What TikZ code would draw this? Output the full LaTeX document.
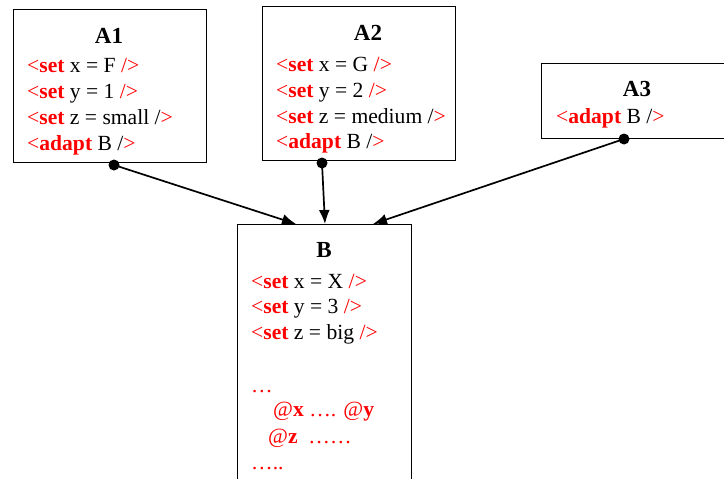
\documentclass[tikz,border=0pt]{standalone}
\usepackage{fontspec}
\setmainfont{Liberation Serif}
\usetikzlibrary{arrows.meta}
\newcommand\tagset{\textcolor{red}{<\textbf{set}}}
\newcommand\tagadapt{\textcolor{red}{<\textbf{adapt}}}
\newcommand\rend{\textcolor{red}{/>}}
\newcommand\hend{/\textcolor{red}{>}}
\tikzset{
  box/.style={draw, line width=1.4pt, inner sep=0pt, anchor=north west},
  ttl/.style={anchor=base, inner sep=0pt, font=\fontsize{23}{26}\selectfont\bfseries},
  ln/.style={anchor=base west, inner sep=0pt, font=\fontsize{21.6}{26}\selectfont},
  rln/.style={ln, text=red},
  conn/.style={line width=1.7pt, -{Latex[length=14pt,width=11pt]}},
  dot/.style={fill=black}
}
\begin{document}
\begin{tikzpicture}[x=1pt,y=-1pt]
\useasboundingbox (0,0) rectangle (724,479);
% boxes
\node[box, minimum width=193pt, minimum height=153pt] (A1) at (13,9) {};
\node[box, minimum width=193pt, minimum height=154pt] (A2) at (262,6) {};
\node[box, minimum width=183pt, minimum height=75pt] (A3) at (541,63) {};
\node[box, minimum width=174pt, minimum height=270pt] (B) at (237,224) {};
% A1
\node[ttl] (A1t) at (109,43) {A1};
\node[ln] (A1a) at (27,72) {\tagset{} x = F \rend};
\node[ln] (A1b) at (27,98) {\tagset{} y = 1 \rend};
\node[ln] (A1c) at (27,124) {\tagset{} z = small \hend};
\node[ln] (A1d) at (27,150) {\tagadapt{} B \hend};
% A2
\node[ttl] (A2t) at (368,40) {A2};
\node[ln] (A2a) at (276,71) {\tagset{} x = G \rend};
\node[ln] (A2b) at (276,97) {\tagset{} y = 2 \rend};
\node[ln] (A2c) at (276,123) {\tagset{} z = medium \hend};
\node[ln] (A2d) at (276,148) {\tagadapt{} B \hend};
% A3
\node[ttl] (A3t) at (637,96) {A3};
\node[ln] (A3a) at (556,123) {\tagadapt{} B \hend};
% B
\node[ttl] (Bt) at (324,257) {B};
\node[ln] (Ba) at (251,288) {\tagset{} x = X \rend};
\node[ln] (Bb) at (251,313) {\tagset{} y = 3 \rend};
\node[ln] (Bc) at (251,339) {\tagset{} z = big \rend};
\node[rln] (Bd) at (251,392) {…};
\node[rln] (Be) at (273,416) {@\textbf{x} …. @\textbf{y}};
\node[rln] (Bf) at (268,443) {@\textbf{z}\enspace ……};
\node[rln] (Bg) at (251,469) {…..};
% connector ends
\coordinate (s1) at (114,165);
\coordinate (s2) at (322,163);
\coordinate (s3) at (624,139);
\coordinate (t1) at (296,224);
\coordinate (t2) at (325,224);
\coordinate (t3) at (373,224);
\draw[conn] (s1) -- (t1);
\draw[conn] (s2) -- (t2);
\draw[conn] (s3) -- (t3);
\fill[dot] (s1) circle (5.5);
\fill[dot] (s2) circle (5.5);
\fill[dot] (s3) circle (5.5);
\end{tikzpicture}
\end{document}
